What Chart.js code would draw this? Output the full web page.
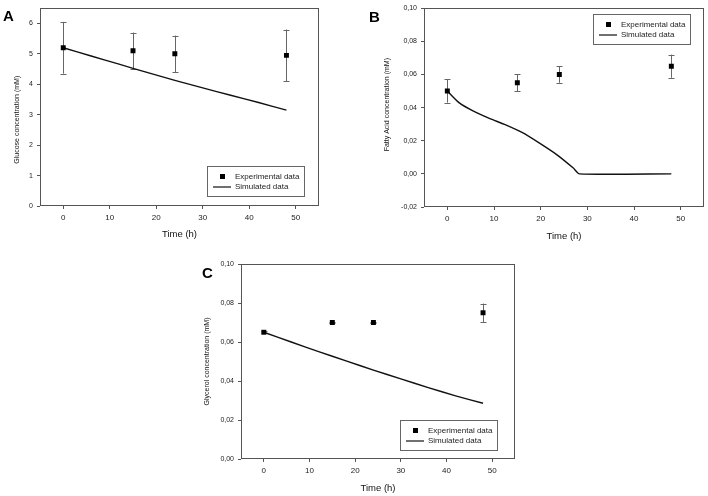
<!DOCTYPE html>
<html>
<head>
<meta charset="utf-8">
<script src="https://cdn.jsdelivr.net/npm/chart.js@4"></script>
<style>
  body { margin: 0; background: #fff; width: 708px; height: 496px; position: relative; overflow: hidden; }
  canvas { position: absolute; }
  .tag { position: absolute; font: bold 15px "Liberation Sans", Arial, sans-serif; color: #000; }
</style>
</head>
<body>
<canvas id="chartA" width="354" height="245" style="left:0;top:0"></canvas>
<canvas id="chartB" width="354" height="245" style="left:354px;top:0"></canvas>
<canvas id="chartC" width="354" height="246" style="left:180px;top:250px"></canvas>
<div class="tag" style="left:3px;top:7px">A</div>
<div class="tag" style="left:369px;top:8px">B</div>
<div class="tag" style="left:202px;top:264px">C</div>
<script>
// sampling times of the measurements
const expTime = [0, 15, 24, 48];

// A - glucose
const glucoseExp = [5.2, 5.1, 5.0, 4.95];
const glucoseErr = [0.85, 0.6, 0.6, 0.85];
const glucoseSimTime = [0, 6, 12, 18, 24, 30, 36, 42, 48];
const glucoseSim = [5.2, 4.93, 4.66, 4.39, 4.13, 3.88, 3.64, 3.40, 3.15];

// B - fatty acid
const fattyExp = [0.05, 0.055, 0.06, 0.065];
const fattyErr = [0.007, 0.005, 0.005, 0.007];
const fattySimTime = [0, 2.5, 5.5, 9, 12.5, 16, 19.5, 23.5, 27, 28.3, 48];
const fattySim = [0.05, 0.043, 0.038, 0.0335, 0.0296, 0.025, 0.019, 0.0115, 0.0035, 0, 0];

// C - glycerol
const glycerolExp = [0.065, 0.070, 0.070, 0.075];
const glycerolErr = [0.0004, 0.0005, 0.0005, 0.0047];
const glycerolSimTime = [0, 6, 12, 18, 24, 30, 36, 42, 48];
const glycerolSim = [0.065, 0.060, 0.0551, 0.0503, 0.0456, 0.0411, 0.0366, 0.0324, 0.0286];

// tick labels
const timeTicks = [0, 10, 20, 30, 40, 50];
const glucoseTicks = [0, 1, 2, 3, 4, 5, 6];
const fattyTicks = [-0.02, 0, 0.02, 0.04, 0.06, 0.08, 0.10];
const glycerolTicks = [0, 0.02, 0.04, 0.06, 0.08, 0.10];

const FONT = '"Liberation Sans", Arial, sans-serif';
const AXIS = '#555';

const pairs = (xs, ys) => xs.map((x, i) => ({ x, y: ys[i] }));
const comma = v => v.toFixed(2).replace('.', ',');

// frame around the plot area
const frame = {
  id: 'frame',
  afterDraw(chart) {
    const { ctx, chartArea: a } = chart;
    ctx.save();
    ctx.strokeStyle = AXIS;
    ctx.lineWidth = 1;
    ctx.strokeRect(Math.round(a.left) + 0.5, Math.round(a.top) + 0.5,
      Math.round(a.right - a.left) - 1, Math.round(a.bottom - a.top) - 1);
    ctx.restore();
  }
};

// vertical error bars with caps
const errorBars = {
  id: 'errorBars',
  beforeDatasetsDraw(chart) {
    const { ctx, scales: { x, y } } = chart;
    ctx.save();
    ctx.strokeStyle = '#666';
    ctx.lineWidth = 1;
    chart.data.datasets.forEach(ds => {
      if (!ds.errors) return;
      ds.data.forEach((p, i) => {
        const e = ds.errors[i];
        const px = Math.round(x.getPixelForValue(p.x)) + 0.5;
        const top = y.getPixelForValue(p.y + e);
        const bot = y.getPixelForValue(p.y - e);
        ctx.beginPath();
        ctx.moveTo(px, top); ctx.lineTo(px, bot);
        ctx.moveTo(px - 3, Math.round(top) + 0.5); ctx.lineTo(px + 3, Math.round(top) + 0.5);
        ctx.moveTo(px - 3, Math.round(bot) + 0.5); ctx.lineTo(px + 3, Math.round(bot) + 0.5);
        ctx.stroke();
      });
    });
    ctx.restore();
  }
};

// boxed legend inside the plot area
const boxLegend = {
  id: 'boxLegend',
  afterDraw(chart, args, opts) {
    const { ctx, chartArea: a } = chart;
    const w = 97, h = 30;
    const left = Math.round(a.right - opts.right - w);
    const top = Math.round(opts.top != null ? a.top + opts.top : a.bottom - opts.bottom - h);
    ctx.save();
    ctx.strokeStyle = '#666';
    ctx.lineWidth = 1;
    ctx.strokeRect(left + 0.5, top + 0.5, w, h);
    const [exp, sim] = chart.data.datasets;
    ctx.fillStyle = '#000';
    ctx.fillRect(left + 13, top + 8, 5, 5);
    ctx.strokeStyle = '#222';
    ctx.lineWidth = 1.3;
    ctx.beginPath();
    ctx.moveTo(left + 6, top + 21); ctx.lineTo(left + 24, top + 21);
    ctx.stroke();
    ctx.fillStyle = '#222';
    ctx.font = '8px ' + FONT;
    ctx.textBaseline = 'middle';
    ctx.fillText(exp.label, left + 28, top + 10.5);
    ctx.fillText(sim.label, left + 28, top + 21);
    ctx.restore();
  }
};

function makeChart(id, p) {
  new Chart(document.getElementById(id), {
    type: 'scatter',
    data: {
      datasets: [
        {
          label: 'Experimental data',
          data: pairs(expTime, p.exp),
          errors: p.err,
          pointStyle: 'rect',
          pointRadius: 3.5,
          backgroundColor: '#000',
          borderColor: '#000',
          borderWidth: 0
        },
        {
          label: 'Simulated data',
          data: pairs(p.simTime, p.sim),
          showLine: true,
          pointRadius: 0,
          borderColor: '#111',
          borderWidth: 1.4,
          tension: 0.2
        }
      ]
    },
    options: {
      responsive: false,
      animation: false,
      layout: { padding: p.pad },
      plugins: {
        legend: { display: false },
        tooltip: { enabled: false },
        boxLegend: p.legend
      },
      scales: {
        x: {
          type: 'linear', min: -5, max: 55,
          afterBuildTicks: s => { s.ticks = timeTicks.map(v => ({ value: v })); },
          afterFit: s => { s.height = p.xh; },
          border: { display: false },
          grid: { drawOnChartArea: false, drawTicks: true, tickLength: 3, tickColor: AXIS },
          ticks: { color: '#222', font: { family: FONT, size: 8 }, padding: 4, maxRotation: 0 },
          title: { display: true, text: 'Time (h)', color: '#111', font: { family: FONT, size: 9.5 }, padding: { top: 0, bottom: p.xtp } }
        },
        y: {
          min: p.ymin, max: p.ymax,
          afterBuildTicks: s => { s.ticks = p.yticks.map(v => ({ value: v })); },
          afterFit: s => { s.width = p.yw; },
          border: { display: false },
          grid: { drawOnChartArea: false, drawTicks: true, tickLength: 3, tickColor: AXIS },
          ticks: { color: '#222', font: { family: FONT, size: 7 }, padding: 4, callback: p.fmt },
          title: { display: true, text: p.ytitle, color: '#111', font: { family: FONT, size: 7 }, padding: { top: p.ytp, bottom: 0 } }
        }
      }
    },
    plugins: [frame, errorBars, boxLegend]
  });
}

makeChart('chartA', {
  exp: glucoseExp, err: glucoseErr, simTime: glucoseSimTime, sim: glucoseSim,
  ymin: 0, ymax: 6.5, yticks: glucoseTicks, fmt: v => String(v),
  // trailing spaces nudge the centred title down, as in the original
  ytitle: 'Glucose concentration (mM)' + ' '.repeat(13),
  pad: { left: 0, top: 6, right: 35, bottom: 0 }, yw: 40, xh: 39, xtp: 5.3, ytp: 12.8,
  legend: { right: 15, bottom: 10 }
});

makeChart('chartB', {
  exp: fattyExp, err: fattyErr, simTime: fattySimTime, sim: fattySim,
  ymin: -0.02, ymax: 0.10, yticks: fattyTicks, fmt: comma,
  ytitle: '   Fatty Acid concentration (mM)',
  pad: { left: 0, top: 6, right: 4, bottom: 0 }, yw: 70, xh: 38, xtp: 3.3, ytp: 28.8,
  legend: { right: 14, top: 6 }
});

makeChart('chartC', {
  exp: glycerolExp, err: glycerolErr, simTime: glycerolSimTime, sim: glycerolSim,
  ymin: 0, ymax: 0.10, yticks: glycerolTicks, fmt: comma,
  ytitle: 'Glycerol concentration (mM)',
  pad: { left: 0, top: 14, right: 19, bottom: 0 }, yw: 61, xh: 37, xtp: 2.3, ytp: 22.8,
  legend: { right: 18, bottom: 9 }
});
</script>
</body>
</html>
